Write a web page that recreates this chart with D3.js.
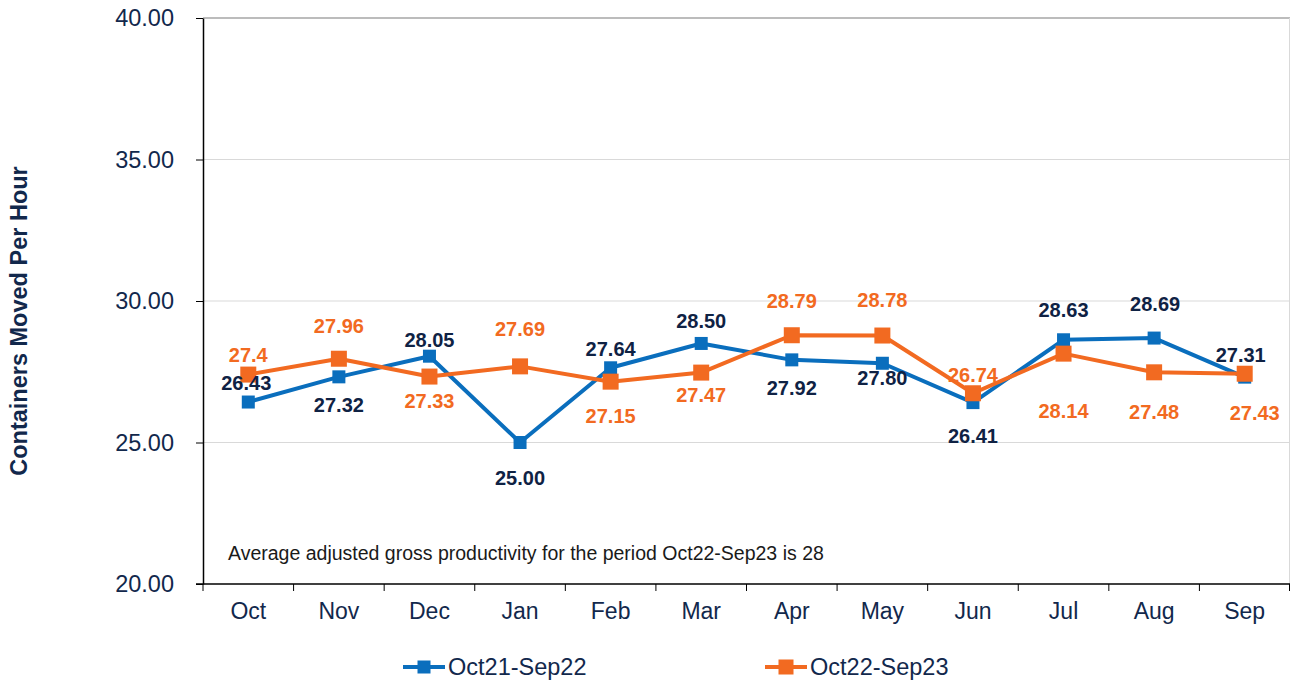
<!DOCTYPE html>
<html>
<head>
<style>
  body { margin: 0; background: #fff; }
  text { font-family: "Liberation Sans", Arial, sans-serif; }
</style>
<script src="https://d3js.org/d3.v7.min.js"></script>
</head>
<body>
<svg id="chart" width="1293" height="683"></svg>
<script>
// data
var months = ["Oct", "Nov", "Dec", "Jan", "Feb", "Mar", "Apr", "May", "Jun", "Jul", "Aug", "Sep"];
var series1Name = "Oct21-Sep22";
var series1 = [26.43, 27.32, 28.05, 25.00, 27.64, 28.50, 27.92, 27.80, 26.41, 28.63, 28.69, 27.31];
var series1Labels = ["26.43", "27.32", "28.05", "25.00", "27.64", "28.50", "27.92", "27.80", "26.41", "28.63", "28.69", "27.31"];
var series2Name = "Oct22-Sep23";
var series2 = [27.4, 27.96, 27.33, 27.69, 27.15, 27.47, 28.79, 28.78, 26.74, 28.14, 27.48, 27.43];
var series2Labels = ["27.4", "27.96", "27.33", "27.69", "27.15", "27.47", "28.79", "28.78", "26.74", "28.14", "27.48", "27.43"];
var yTicks = [20, 25, 30, 35, 40];
var note = "Average adjusted gross productivity for the period Oct22-Sep23 is 28";

// label placement (layout, pixels relative to point)
var labelOffset1 = [[-2,-19],[0,28],[0,-16],[0,35],[0,-19],[0,-22],[0,28],[0,15],[0,33],[0,-30],[1,-34],[-4,-22]];
var labelOffset2 = [[0,-20],[0,-33],[0,24],[0,-37],[0,34],[0,22],[0,-34],[0,-36],[0,-18],[0,57],[0,40],[10,39]];

var margin = {left: 203, right: 3, top: 18, bottom: 99};
var W = 1293, H = 683;
var svg = d3.select("#chart");
var innerW = W - margin.left - margin.right;
var innerH = H - margin.top - margin.bottom;

var x = d3.scaleBand().domain(months).range([margin.left, margin.left + innerW]);
var y = d3.scaleLinear().domain([20, 40]).range([margin.top + innerH, margin.top]);

var navy = "#12284C";
var blue = "#0A6EBD";
var orange = "#F26A21";

// grid lines
svg.append("g").selectAll("line").data(yTicks.filter(d => d > 20)).enter().append("line")
  .attr("x1", margin.left).attr("x2", margin.left + innerW)
  .attr("y1", d => y(d)).attr("y2", d => y(d))
  .attr("stroke", d => d === 40 ? "#A6A6A6" : "#D9D9D9")
  .attr("stroke-width", d => d === 40 ? 1.5 : 1);

// right border
svg.append("line")
  .attr("x1", margin.left + innerW - 0.5).attr("x2", margin.left + innerW - 0.5)
  .attr("y1", margin.top).attr("y2", margin.top + innerH)
  .attr("stroke", "#D9D9D9");

// y axis
var yAxis = svg.append("g").attr("transform", "translate(" + margin.left + ",0)")
  .call(d3.axisLeft(y).tickValues(yTicks).tickFormat(d3.format(".2f")).tickSizeInner(7).tickSizeOuter(0).tickPadding(22));
yAxis.select(".domain").attr("stroke", "#000").attr("stroke-width", 1.5);
yAxis.selectAll(".tick line").attr("stroke", "#000");
yAxis.selectAll(".tick text").attr("fill", navy).style("font-size", "23.5px");

// x axis
var xAxis = svg.append("g").attr("transform", "translate(0," + (margin.top + innerH) + ")")
  .call(d3.axisBottom(x).tickSize(0).tickPadding(19));
xAxis.select(".domain").remove();
xAxis.selectAll(".tick text").attr("fill", navy).style("font-size", "23px");
svg.append("line")
  .attr("x1", margin.left - 7).attr("x2", margin.left + innerW)
  .attr("y1", y(20)).attr("y2", y(20))
  .attr("stroke", "#000").attr("stroke-width", 1.5);
svg.append("g").selectAll("line").data(months).enter().append("line")
  .attr("x1", d => x(d)).attr("x2", d => x(d))
  .attr("y1", y(20)).attr("y2", y(20) + 7)
  .attr("stroke", "#000");
svg.append("line")
  .attr("x1", margin.left + innerW - 0.5).attr("x2", margin.left + innerW - 0.5)
  .attr("y1", y(20)).attr("y2", y(20) + 7)
  .attr("stroke", "#000");

// y title
svg.append("text")
  .attr("transform", "translate(27," + (margin.top + innerH / 2 + 20) + ") rotate(-90)")
  .attr("text-anchor", "middle")
  .attr("fill", navy)
  .style("font-size", "23.5px").style("font-weight", "bold")
  .text("Containers Moved Per Hour");

// note
svg.append("text")
  .attr("x", 228).attr("y", 560)
  .attr("fill", "#1a1a1a")
  .style("font-size", "19.5px")
  .text(note);

var cx = d => x(d) + x.bandwidth() / 2;
var line = d3.line().x((d, i) => cx(months[i])).y(d => y(d));

function drawSeries(values, color, size) {
  svg.append("path").datum(values)
    .attr("d", line)
    .attr("fill", "none").attr("stroke", color).attr("stroke-width", 4)
    .attr("stroke-linejoin", "round");
  svg.append("g").selectAll("rect").data(values).enter().append("rect")
    .attr("x", (d, i) => cx(months[i]) - size / 2)
    .attr("y", d => y(d) - size / 2)
    .attr("width", size).attr("height", size)
    .attr("fill", color);
}
drawSeries(series1, blue, 13);
drawSeries(series2, orange, 16);

function drawLabels(values, labels, offsets, color) {
  svg.append("g").selectAll("text").data(values).enter().append("text")
    .attr("x", (d, i) => cx(months[i]) + offsets[i][0])
    .attr("y", (d, i) => y(d) + offsets[i][1])
    .attr("dy", "0.35em")
    .attr("text-anchor", "middle")
    .attr("fill", color)
    .style("font-size", "20px").style("font-weight", "bold")
    .text((d, i) => labels[i]);
}
drawLabels(series1, series1Labels, labelOffset1, "#0F2244");
drawLabels(series2, series2Labels, labelOffset2, orange);

// legend
var legend = [
  {name: series1Name, color: blue, x: 403, size: 13},
  {name: series2Name, color: orange, x: 765, size: 15}
];
var lg = svg.append("g").selectAll("g").data(legend).enter().append("g")
  .attr("transform", d => "translate(" + d.x + ",667)");
lg.append("line").attr("x1", 0).attr("x2", 42).attr("y1", 0).attr("y2", 0)
  .attr("stroke", d => d.color).attr("stroke-width", 4);
lg.append("rect").attr("x", d => 21 - d.size / 2).attr("y", d => -d.size / 2)
  .attr("width", d => d.size).attr("height", d => d.size).attr("fill", d => d.color);
lg.append("text").attr("x", 45).attr("y", 0).attr("dy", "0.35em")
  .attr("fill", navy).style("font-size", "23.5px")
  .text(d => d.name);
</script>
</body>
</html>
